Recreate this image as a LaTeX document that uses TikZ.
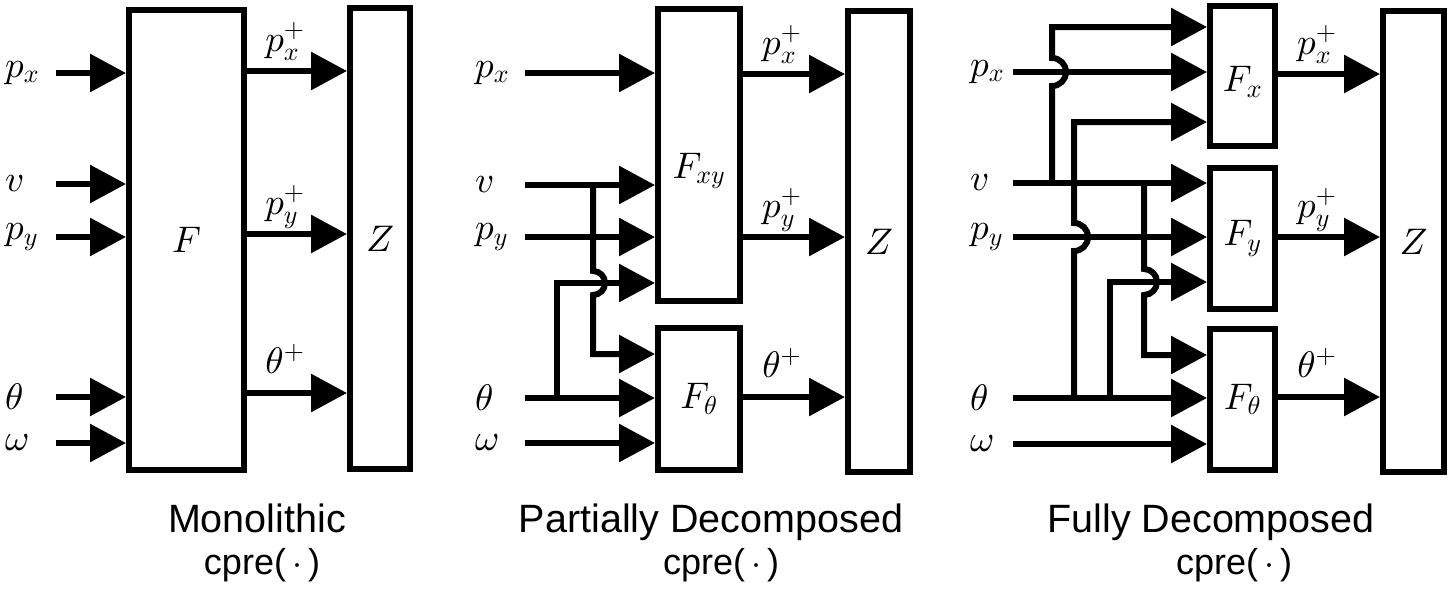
\documentclass[tikz,border=0pt]{standalone}
\usepackage{fontspec}
\newfontfamily\capfont{Liberation Sans}
% scalable math fonts
\DeclareFontShape{OML}{cmm}{m}{it}{<-> cmmi10}{}
\DeclareFontShape{OMS}{cmsy}{m}{n}{<-> cmsy10}{}
\DeclareFontShape{OT1}{cmr}{m}{n}{<-> cmr10}{}
\usetikzlibrary{arrows.meta, positioning}
\newcommand{\mathsz}{\fontsize{37pt}{44pt}\selectfont}
\newcommand{\cpretxt}{cpre(\hspace{6pt}$\cdot$\hspace{6pt})}
\tikzset{
  blk/.style={draw, line width=6pt, inner sep=0pt, font=\mathsz},
  wire/.style={line width=6pt},
  sig/.style={wire, -{Triangle[length=36pt, width=37pt]}},
  lbl/.style={inner sep=0pt, font=\mathsz},
  ttl/.style={inner sep=0pt, anchor=base, font=\capfont\fontsize{39.5pt}{46pt}\selectfont},
  sub/.style={inner sep=0pt, anchor=base, font=\capfont\fontsize{36pt}{42pt}\selectfont},
}

\begin{document}
\begin{tikzpicture}[x=1pt, y=-1pt]
  \useasboundingbox (0,0) rectangle (1453,590);
  % Monolithic
  \node[blk, minimum width=115pt, minimum height=460pt] (mF) at (186.5,240) {$F$};
  \node[blk, minimum width=60pt, minimum height=461pt] (mZ) at (380,238.5) {$Z$};
  \foreach \y/\t/\n in {73/p_x/px, 184/v/v, 237/p_y/py, 397/\theta/th, 443/\omega/om} {
    \node[lbl, anchor=west] (ml\n) at (5,\y) {$\t$};
    \coordinate (m\n) at (56,\y);
    \draw[sig] (m\n) -- (m\n -| mF.west);
  }
  \draw[sig] (mF.east |- 0,71) -- node[lbl, pos=.38, anchor=base, yshift=20pt] {$p_x^+$} (mZ.west |- 0,71);
  \draw[sig] (mF.east |- 0,234) -- node[lbl, pos=.38, anchor=base, yshift=20pt] {$p_y^+$} (mZ.west |- 0,234);
  \draw[sig] (mF.east |- 0,393) -- node[lbl, pos=.38, anchor=base, yshift=20pt] {$\theta^+$} (mZ.west |- 0,393);
  \node[ttl] (mttl) at (257,532) {Monolithic};
  \node[sub] (msub) at (262,574) {\cpretxt};

  % Partially decomposed
  \node[blk, minimum width=82pt, minimum height=292pt,
        label={[lbl, yshift=-16pt]center:$F_{xy}$}] (pFxy) at (699,155) {};
  \node[blk, minimum width=82pt, minimum height=142pt] (pFt) at (699,399) {$F_\theta$};
  \node[blk, minimum width=62pt, minimum height=461pt] (pZ) at (879,241.5) {$Z$};
  \foreach \y/\t/\n/\b in {73/p_x/px/pFxy, 185/v/v/pFxy, 237/p_y/py/pFxy, 398/\theta/th/pFt, 443/\omega/om/pFt} {
    \node[lbl, anchor=west] (pl\n) at (475,\y) {$\t$};
    \coordinate (p\n) at (525,\y);
    \draw[sig] (p\n) -- (p\n -| \b.west);
  }
  \draw[sig] (557,398) -- (557,283) -- (pFxy.west |- 0,283);
  \draw[sig] (593,185) -- (593,271) arc[start angle=-90, end angle=90, radius=12]
    -- (593,354) -- (pFt.west |- 0,354);
  \draw[sig] (pFxy.east |- 0,74) -- node[lbl, pos=.38, anchor=base, yshift=20pt] {$p_x^+$} (pZ.west |- 0,74);
  \draw[sig] (pFxy.east |- 0,237) -- node[lbl, pos=.38, anchor=base, yshift=20pt] {$p_y^+$} (pZ.west |- 0,237);
  \draw[sig] (pFt.east |- 0,397) -- node[lbl, pos=.38, anchor=base, yshift=20pt] {$\theta^+$} (pZ.west |- 0,397);
  \node[ttl] (pttl) at (711,532) {Partially Decomposed};
  \node[sub] (psub) at (721,574) {\cpretxt};

  % Fully decomposed
  \node[blk, minimum width=65pt, minimum height=140pt,
        label={[lbl, yshift=-6pt]center:$F_x$}] (fFx) at (1242.5,76) {};
  \node[blk, minimum width=65pt, minimum height=141pt] (fFy) at (1242.5,238.5) {$F_y$};
  \node[blk, minimum width=65pt, minimum height=141pt] (fFt) at (1242.5,399.5) {$F_\theta$};
  \node[blk, minimum width=61pt, minimum height=461pt] (fZ) at (1413.5,241.5) {$Z$};
  \foreach \y/\t/\n/\b in {72/p_x/px/fFx, 183/v/v/fFy, 237/p_y/py/fFy, 398/\theta/th/fFt, 444/\omega/om/fFt} {
    \node[lbl, anchor=west] (fl\n) at (970,\y) {$\t$};
    \coordinate (f\n) at (1013,\y);
    \draw[sig] (f\n) -- (f\n -| \b.west);
  }
  \draw[sig] (1052,183) -- (1052,86) arc[start angle=90, end angle=-90, radius=14]
    -- (1052,27) -- (fFx.west |- 0,27);
  \draw[sig] (1074,398) -- (1074,251) arc[start angle=90, end angle=-90, radius=14]
    -- (1074,122) -- (fFx.west |- 0,122);
  \draw[sig] (1110,398) -- (1110,282) -- (fFy.west |- 0,282);
  \draw[sig] (1144,183) -- (1144,269) arc[start angle=-90, end angle=90, radius=13]
    -- (1144,355) -- (fFt.west |- 0,355);
  \draw[sig] (fFx.east |- 0,74) -- node[lbl, pos=.38, anchor=base, yshift=20pt] {$p_x^+$} (fZ.west |- 0,74);
  \draw[sig] (fFy.east |- 0,237) -- node[lbl, pos=.38, anchor=base, yshift=20pt] {$p_y^+$} (fZ.west |- 0,237);
  \draw[sig] (fFt.east |- 0,397) -- node[lbl, pos=.38, anchor=base, yshift=20pt] {$\theta^+$} (fZ.west |- 0,397);
  \node[ttl] (fttl) at (1211,532) {Fully Decomposed};
  \node[sub] (fsub) at (1234,574) {\cpretxt};
\end{tikzpicture}
\end{document}
